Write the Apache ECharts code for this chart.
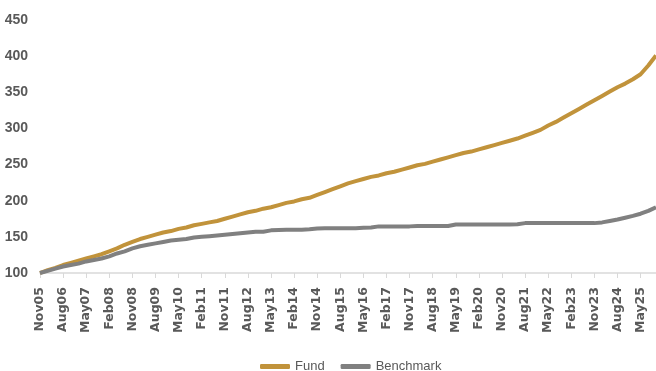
<!DOCTYPE html>
<html>
<head>
<meta charset="utf-8">
<script src="https://cdn.jsdelivr.net/npm/echarts@6/dist/echarts.min.js"></script>
<style>
  html, body { margin: 0; padding: 0; background: #ffffff; }
  #chart { width: 656px; height: 371px; }
</style>
</head>
<body>
<div id="chart"></div>
<script>
// Quarterly observation dates (labels shown every 9 months)
const categories = [
  "Nov05","Feb06","May06","Aug06","Nov06","Feb07","May07","Aug07","Nov07",
  "Feb08","May08","Aug08","Nov08","Feb09","May09","Aug09","Nov09",
  "Feb10","May10","Aug10","Nov10","Feb11","May11","Aug11","Nov11",
  "Feb12","May12","Aug12","Nov12","Feb13","May13","Aug13","Nov13",
  "Feb14","May14","Aug14","Nov14","Feb15","May15","Aug15","Nov15",
  "Feb16","May16","Aug16","Nov16","Feb17","May17","Aug17","Nov17",
  "Feb18","May18","Aug18","Nov18","Feb19","May19","Aug19","Nov19",
  "Feb20","May20","Aug20","Nov20","Feb21","May21","Aug21","Nov21",
  "Feb22","May22","Aug22","Nov22","Feb23","May23","Aug23","Nov23",
  "Feb24","May24","Aug24","Nov24","Feb25","May25","Aug25","Nov25"
];

const fund = [
  100,104,107,111,114,117,120,123,126,
  130,134,139,143,147,150,153,156,
  158,161,163,166,168,170,172,175,
  178,181,184,186,189,191,194,197,
  199,202,204,208,212,216,220,224,
  227,230,233,235,238,240,243,246,
  249,251,254,257,260,263,266,268,
  271,274,277,280,283,286,290,294,
  298,304,309,315,321,327,333,339,
  345,351,357,362,368,375,387,401
];

const benchmark = [
  100,103,106,109,111,113,116,118,120,
  123,127,130,134,137,139,141,143,
  145,146,147,149,150,151,152,153,
  154,155,156,157,157,159,159.5,160,
  160,160,160.5,161.5,162,162,162,162,
  162,162.5,163,164.5,164.5,164.5,164.5,164.5,
  165,165,165,165,165,167,167,167,
  167,167,167,167,167,167.5,169,169,
  169,169,169,169,169,169,169,169,
  170,172,174,176.5,179,182,186,191
];

const yTicks = { min: 100, max: 450, interval: 50 };

const chart = echarts.init(document.getElementById('chart'), null, { renderer: 'canvas' });
chart.setOption({
  animation: false,
  backgroundColor: '#ffffff',
  grid: { left: 40, right: 0, top: 20, bottom: 98, containLabel: false },
  legend: {
    left: 255,
    top: 355,
    itemWidth: 30,
    itemHeight: 5,
    itemGap: 16,
    icon: 'roundRect',
    textStyle: {
      fontFamily: "'Liberation Sans Narrow', 'Liberation Sans', sans-serif",
      fontSize: 13,
      color: '#595959'
    },
    data: ['Fund', 'Benchmark']
  },
  xAxis: {
    type: 'category',
    data: categories,
    boundaryGap: false,
    axisLine: { show: true, lineStyle: { color: '#d9d9d9', width: 1.5 } },
    axisTick: { show: true, interval: 2, length: 5, lineStyle: { color: '#d9d9d9', width: 1 } },
    axisLabel: {
      interval: 2,
      rotate: 90,
      margin: 14,
      color: '#595959',
      fontFamily: "'DejaVu Sans', sans-serif",
      fontWeight: 'bold',
      fontSize: 12.5
    },
    splitLine: { show: false }
  },
  yAxis: {
    type: 'value',
    min: yTicks.min,
    max: yTicks.max,
    interval: yTicks.interval,
    axisLine: { show: false },
    axisTick: { show: false },
    splitLine: { show: false },
    axisLabel: {
      margin: 12,
      color: '#595959',
      fontFamily: "'Liberation Sans Narrow', 'Liberation Sans', sans-serif",
      fontWeight: 'bold',
      fontSize: 14
    }
  },
  series: [
    {
      name: 'Fund',
      type: 'line',
      data: fund,
      showSymbol: false,
      symbol: 'none',
      itemStyle: { color: '#C1933B' },
      lineStyle: { color: '#C1933B', width: 4 }
    },
    {
      name: 'Benchmark',
      type: 'line',
      data: benchmark,
      showSymbol: false,
      symbol: 'none',
      itemStyle: { color: '#808080' },
      lineStyle: { color: '#808080', width: 4 }
    }
  ]
});
</script>
</body>
</html>
